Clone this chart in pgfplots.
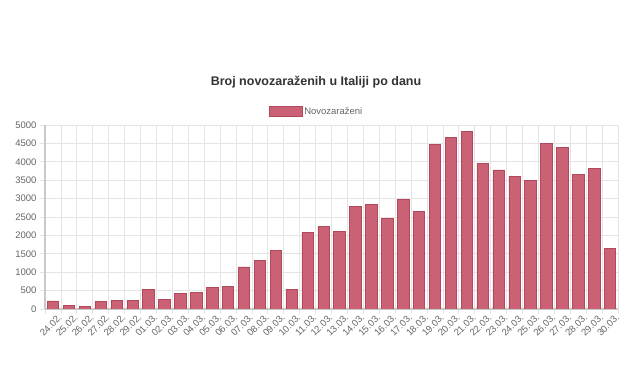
\documentclass[border=0pt]{standalone}
\usepackage{fontspec}
\setmainfont{Liberation Sans}
\usepackage{pgfplots}
\pgfplotsset{compat=1.18}
\definecolor{barfill}{RGB}{202,97,117}
\definecolor{barline}{RGB}{178,72,92}
\definecolor{gridc}{RGB}{228,228,228}
\definecolor{axisc}{RGB}{200,200,200}
\definecolor{txt}{RGB}{102,102,102}
\definecolor{ttl}{RGB}{51,51,51}
\begin{document}
\begin{tikzpicture}[x=1pt,y=1pt]
\useasboundingbox (0,0) rectangle (635,369);
\fill[white] (0,0) rectangle (635,369);
\node[font=\fontsize{12.5}{14}\selectfont\bfseries, text=ttl] at (316,287) {Broj novozaraženih u Italiji po danu};
\begin{axis}[
  at={(45pt,60pt)}, anchor=south west,
  scale only axis, width=573pt, height=184pt,
  ybar, bar width=0.72,
  xmin=-0.5, xmax=35.5, ymin=0, ymax=5000,
  ytick={0,500,...,5000},
  xtick={0,...,35},
  xticklabels={24.02.,25.02.,26.02.,27.02.,28.02.,29.02.,01.03.,02.03.,03.03.,04.03.,05.03.,06.03.,07.03.,08.03.,09.03.,10.03.,11.03.,12.03.,13.03.,14.03.,15.03.,16.03.,17.03.,18.03.,19.03.,20.03.,21.03.,22.03.,23.03.,24.03.,25.03.,26.03.,27.03.,28.03.,29.03.,30.03.},
  minor xtick={-0.5,0.5,...,35.5},
  xminorgrids=true, ymajorgrids=true, xmajorgrids=false,
  grid style={draw=gridc, line width=0.8pt},
  minor grid style={draw=gridc, line width=0.8pt},
  axis lines*=left,
  axis line style={draw=axisc, line width=1.4pt},
  tick align=outside,
  major tick length=5pt, minor tick length=5pt,
  major x tick style={draw=none},
  minor x tick style={draw=gridc, line width=0.8pt},
  ytick style={draw=gridc, line width=0.8pt},
  /pgf/number format/assume math mode=true,
  /pgf/number format/set thousands separator={},
  tick label style={font=\fontsize{9.5}{11}\selectfont, text=txt},
  x tick label style={rotate=45, anchor=north east, inner sep=0pt, xshift=4pt, yshift=-3pt},
  legend style={at={(0.5,1)}, anchor=south, xshift=-15pt, yshift=7pt, draw=none, fill=none, inner sep=0pt, font=\fontsize{9.5}{11}\selectfont, text=txt},
  legend image code/.code={\draw[fill=barfill,draw=barline] (0pt,-5pt) rectangle (33pt,5pt);},
]
\addplot[fill=barfill, draw=barline, line width=0.6pt] coordinates {
(0,221) (1,90) (2,74) (3,203) (4,233) (5,228) (6,528) (7,258) (8,428) (9,443)
(10,590) (11,620) (12,1145) (13,1326) (14,1598) (15,529) (16,2076) (17,2249) (18,2116) (19,2795)
(20,2853) (21,2470) (22,2989) (23,2648) (24,4480) (25,4670) (26,4821) (27,3957) (28,3780) (29,3612)
(30,3491) (31,4492) (32,4401) (33,3651) (34,3815) (35,1648)};
\addlegendentry{Novozaraženi}
\end{axis}
\end{tikzpicture}
\end{document}
